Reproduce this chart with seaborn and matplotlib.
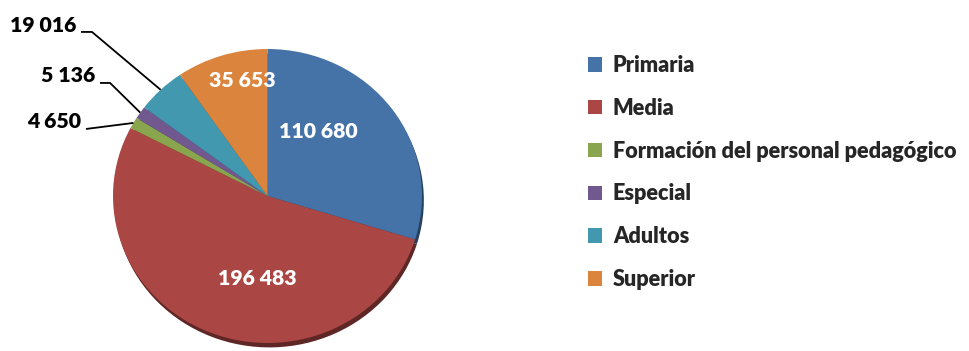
import matplotlib
matplotlib.use("Agg")
import matplotlib.pyplot as plt
import seaborn as sns
import numpy as np
from matplotlib.colors import to_rgb

# Enrolment by education level
categories = ["Primaria", "Media", "Formación del personal pedagógico",
              "Especial", "Adultos", "Superior"]
students = [110680, 196483, 4650, 5136, 19016, 35653]
palette = ["#4572A7", "#AA4643", "#89A54E", "#71588F", "#4198AF", "#DB843D"]

sns.set_theme(style="white")
plt.rcParams["font.family"] = ["Lato", "DejaVu Sans"]
WEIGHT = 800

W, H = 969, 351
fig = plt.figure(figsize=(W / 100, H / 100), dpi=100)
fig.patch.set_facecolor("white")

# pie placement in pixels (centre measured from the top edge)
cx, cy = 267.5, 196.0
rx, ry = 154.5, 147.0
ax_w = 450
ax = fig.add_axes([0, 0, ax_w / W, 1])


def fmt(v):
    return f"{v:,}".replace(",", " ")


# darker rim underneath gives the slight 3-D look
dark = [tuple(c * 0.55 for c in to_rgb(p)) for p in palette]
ax.pie(students, colors=dark, startangle=90, counterclock=False,
       center=(0.012, -0.03), wedgeprops=dict(linewidth=0))
wedges, _ = ax.pie(students, colors=palette, startangle=90, counterclock=False,
                   wedgeprops=dict(linewidth=0))

ax.set_aspect("auto")
ax.set_xlim(-cx / rx, (ax_w - cx) / rx)
ax.set_ylim(-(H - cy) / ry, cy / ry)
ax.axis("off")

# labels inside the large slices
inside = {0: (0.330, 0.442), 1: (-0.068, -0.558), 5: (-0.165, 0.789)}
for i, (x, y) in inside.items():
    ax.text(x, y, fmt(students[i]), ha="center", va="center", color="white",
            fontsize=15.3, fontweight=WEIGHT)

# labels with leader lines for the thin slices
outside = {
    4: ((-1.240, 1.163), [(-1.207, 1.116), (-1.136, 1.116)]),
    3: ((-1.117, 0.820), [(-1.084, 0.769), (-1.019, 0.769)]),
    2: ((-1.207, 0.507), [(-1.175, 0.456), (-1.100, 0.466)]),
}
for i, ((tx, ty), elbow) in outside.items():
    w = wedges[i]
    mid = np.deg2rad((w.theta1 + w.theta2) / 2)
    pts = elbow + [(np.cos(mid), np.sin(mid))]
    xs, ys = zip(*pts)
    ax.plot(xs, ys, color="black", lw=1.3, solid_capstyle="butt")
    ax.text(tx, ty, fmt(students[i]), ha="right", va="center", color="black",
            fontsize=15.3, fontweight=WEIGHT)

fig.legend(handles=wedges, labels=categories, loc="upper left",
           bbox_to_anchor=(588 / W, 1 - 55 / H), frameon=False,
           prop=dict(weight=WEIGHT, size=15.55),
           handlelength=0.65, handleheight=0.65, handletextpad=0.5,
           labelspacing=1.01, borderpad=0, borderaxespad=0)

fig.savefig("out.png", dpi=100, facecolor="white")
